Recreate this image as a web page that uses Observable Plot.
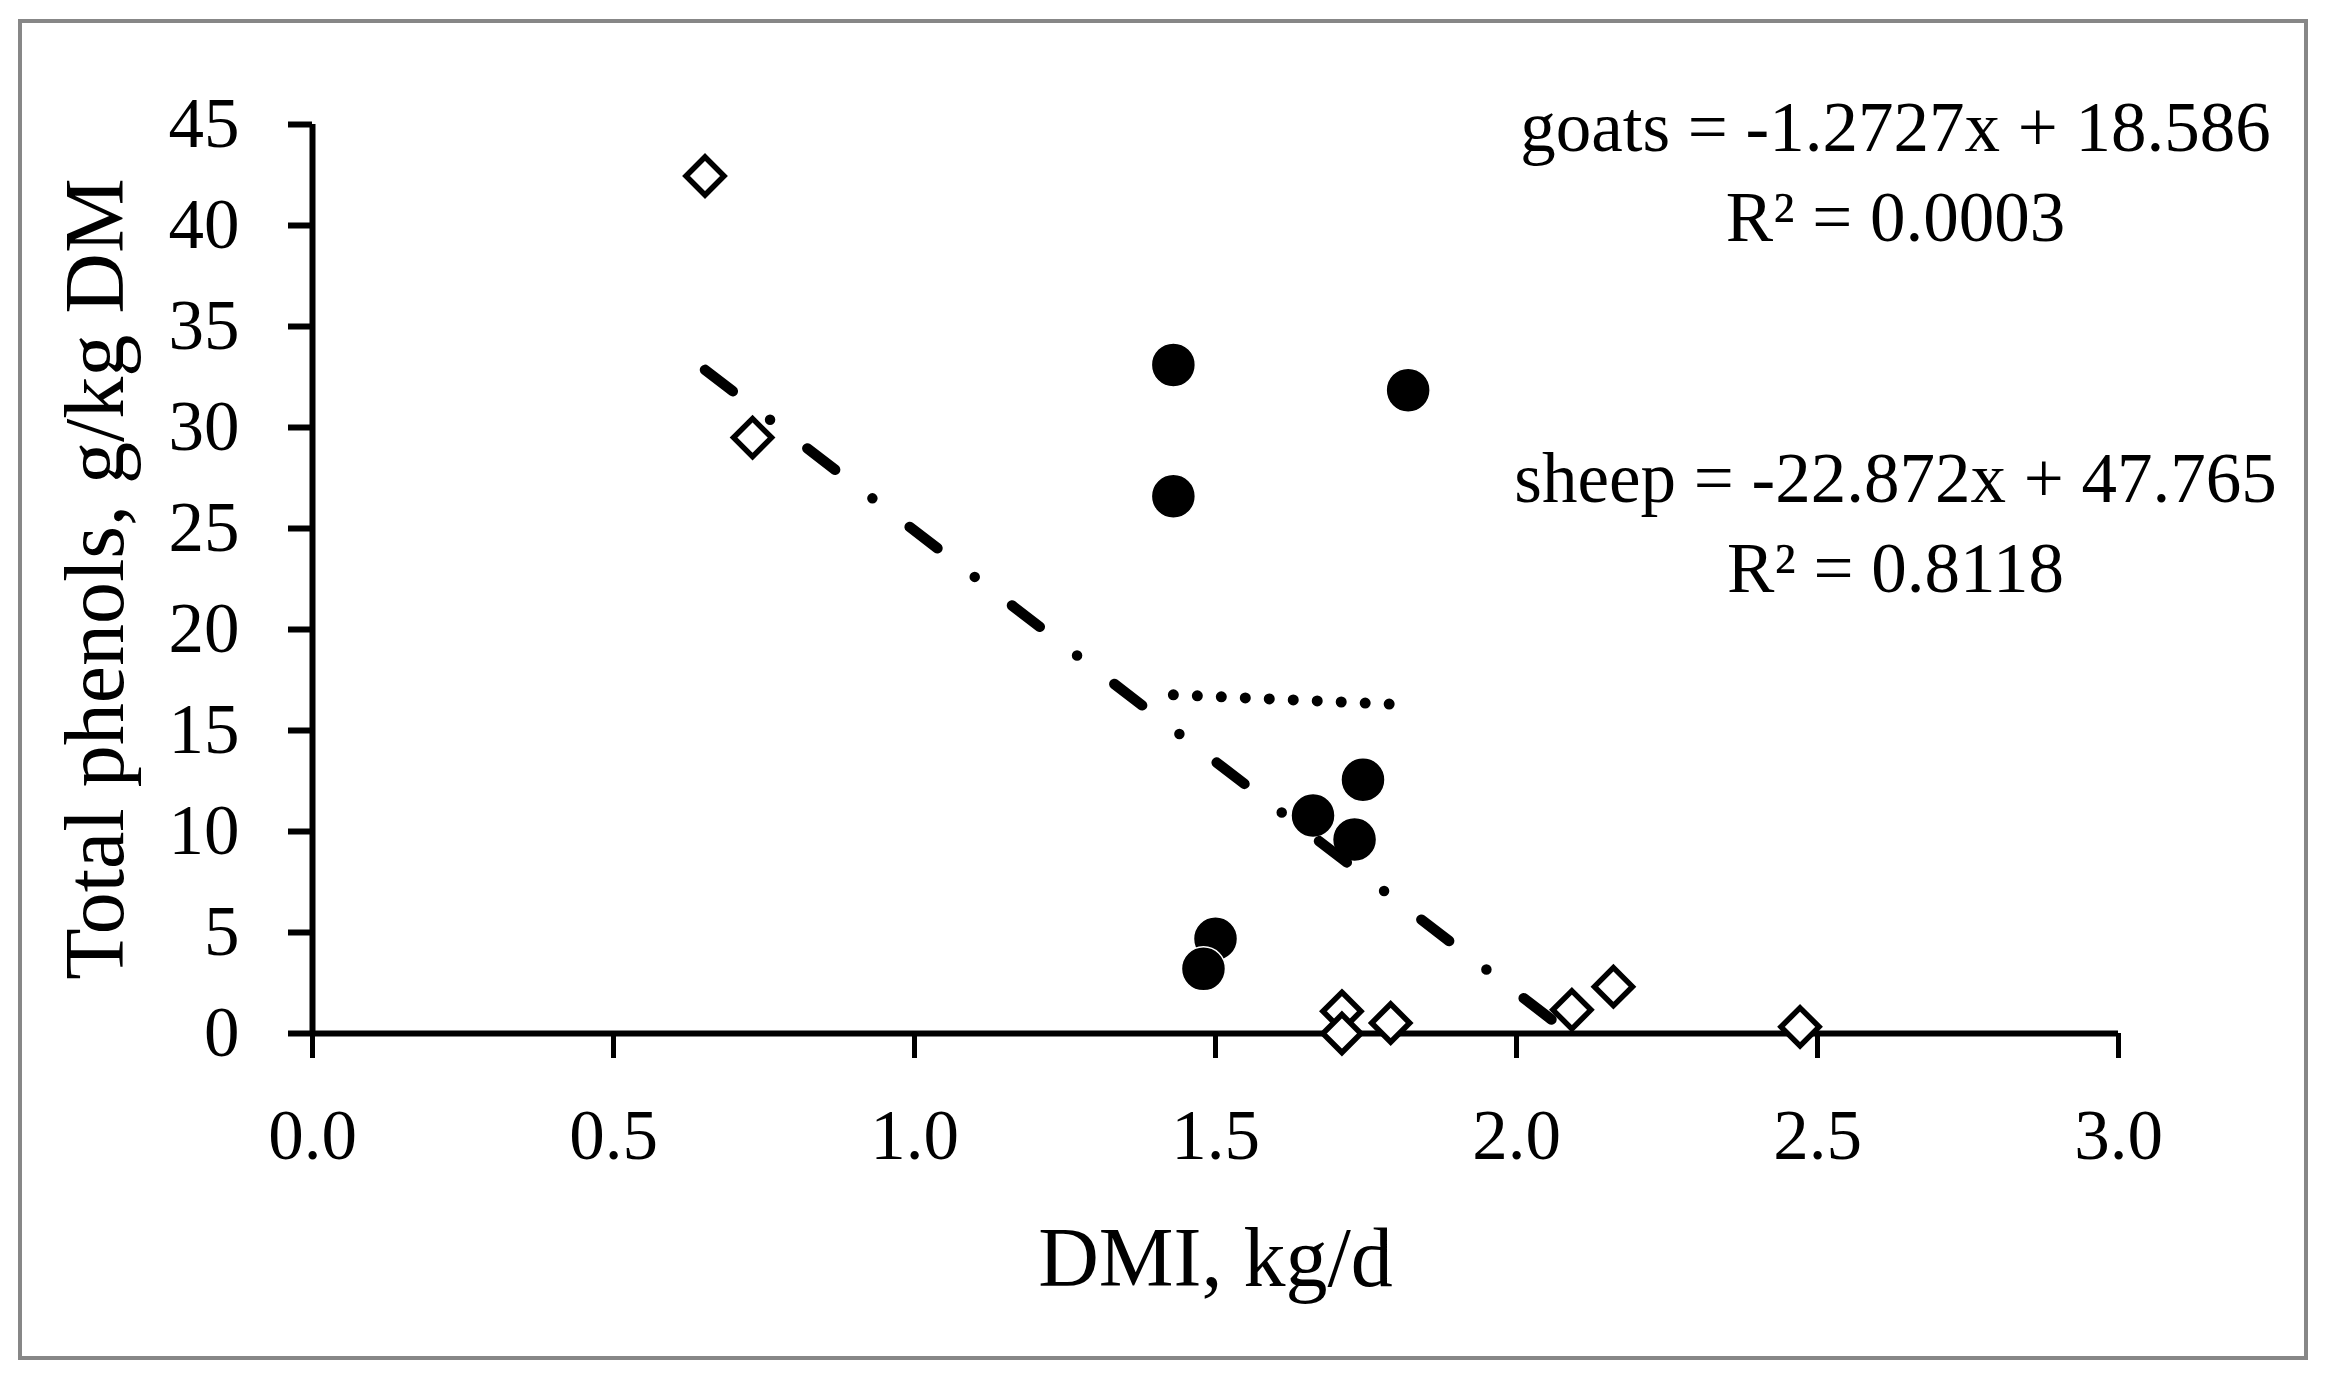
<!DOCTYPE html>
<html><head><meta charset="utf-8">
<script src="https://cdn.jsdelivr.net/npm/d3@7"></script>
<script src="https://cdn.jsdelivr.net/npm/@observablehq/plot@0.6"></script>
<style>
html,body{margin:0;padding:0;background:#fff;}
#wrap{position:relative;width:2331px;height:1380px;overflow:hidden;background:#fff;}
#border{position:absolute;left:18px;top:19px;width:2290px;height:1341px;border:4px solid #878787;box-sizing:border-box;}
#chart{position:absolute;left:0;top:0;}
</style></head><body>
<div id="wrap"><div id="border"></div><div id="chart"></div></div>
<script>
// Data
const goatsDMI = [1.43, 1.43, 1.82, 1.745, 1.662, 1.731, 1.50, 1.48];
const goatsPhenols = [33.1, 26.6, 31.85, 12.56, 10.79, 9.6, 4.69, 3.2];
const sheepDMI = [0.652, 0.731, 1.710, 1.710, 1.791, 2.092, 2.161, 2.471];
const sheepPhenols = [42.45, 29.5, 1.1, 0.0, 0.52, 1.17, 2.32, 0.33];
const seriesNames = ["goats", "sheep"];
const trendSlope = [-1.2727, -22.872];
const trendIntercept = [18.586, 47.765];
const trendR2 = ["0.0003", "0.8118"];
const xTicks = [0, 0.5, 1.0, 1.5, 2.0, 2.5, 3.0];
const yTicks = [0, 5, 10, 15, 20, 25, 30, 35, 40, 45];
const xLabel = "DMI, kg/d";
const yLabel = "Total phenols, g/kg DM";

const font = "Liberation Serif";
const goats = goatsDMI.map((x, i) => ({x, y: goatsPhenols[i]}));
const sheep = sheepDMI.map((x, i) => ({x, y: sheepPhenols[i]}));
function trend(xs, k) {
  const lo = d3.min(xs), hi = d3.max(xs);
  return [lo, hi].map(x => ({x, y: trendSlope[k] * x + trendIntercept[k]}));
}
function eqText(k) {
  return `${seriesNames[k]} = ${trendSlope[k]}x + ${trendIntercept[k]}\nR\u00B2 = ${trendR2[k]}`;
}
const diamondSym = {
  draw(ctx, size) {
    const r = Math.sqrt(size / Math.PI);
    ctx.moveTo(0, -r); ctx.lineTo(r, 0); ctx.lineTo(0, r); ctx.lineTo(-r, 0); ctx.closePath();
  }
};

const chart = Plot.plot({
  width: 2331, height: 1380,
  marginLeft: 312, marginRight: 213, marginTop: 124, marginBottom: 347,
  x: {domain: [0, 3]},
  y: {domain: [0, 45]},
  style: {fontFamily: font, background: "transparent", color: "black", overflow: "visible"},
  marks: [
    Plot.ruleY([0], {stroke: "black", strokeWidth: 6}),
    Plot.ruleX([0], {stroke: "black", strokeWidth: 6}),
    Plot.axisY({ticks: yTicks, tickSize: 24, tickPadding: 49, fontSize: 71, strokeWidth: 6, label: null, tickFormat: d => String(d)}),
    Plot.axisX({ticks: xTicks, tickSize: 25, tickPadding: 50, fontSize: 71, strokeWidth: 5, label: null, tickFormat: d3.format(".1f")}),
    Plot.dot(goats, {x: "x", y: "y", r: 22, fill: "black", stroke: "white", strokeWidth: 1.5}),
    Plot.dot(sheep, {x: "x", y: "y", r: 19, symbol: diamondSym, fill: "white", stroke: "black", strokeWidth: 5.5}),
    Plot.line(trend(goatsDMI, 0), {x: "x", y: "y", stroke: "black", strokeWidth: 11, strokeDasharray: "0 24", strokeLinecap: "round", clip: true}),
    Plot.line(trend(sheepDMI, 1), {x: "x", y: "y", stroke: "black", strokeWidth: 10.5, strokeDasharray: "35 47 0 47", strokeLinecap: "round", clip: true}),
    Plot.text([eqText(0)], {frameAnchor: "top-left", dx: 1583, dy: 116, textAnchor: "middle", lineAnchor: "bottom", lineHeight: 1.254, fontSize: 71, fill: "black"}),
    Plot.text([eqText(1)], {frameAnchor: "top-left", dx: 1583, dy: 467, textAnchor: "middle", lineAnchor: "bottom", lineHeight: 1.254, fontSize: 71, fill: "black"}),
    Plot.text([xLabel], {frameAnchor: "bottom", dy: 252, textAnchor: "middle", lineAnchor: "bottom", fontSize: 84, fill: "black"}),
    Plot.text([yLabel], {frameAnchor: "left", dx: -190, rotate: -90, textAnchor: "middle", lineAnchor: "bottom", fontSize: 84, fill: "black"})
  ]
});
document.getElementById("chart").appendChild(chart);
</script>
</body></html>
